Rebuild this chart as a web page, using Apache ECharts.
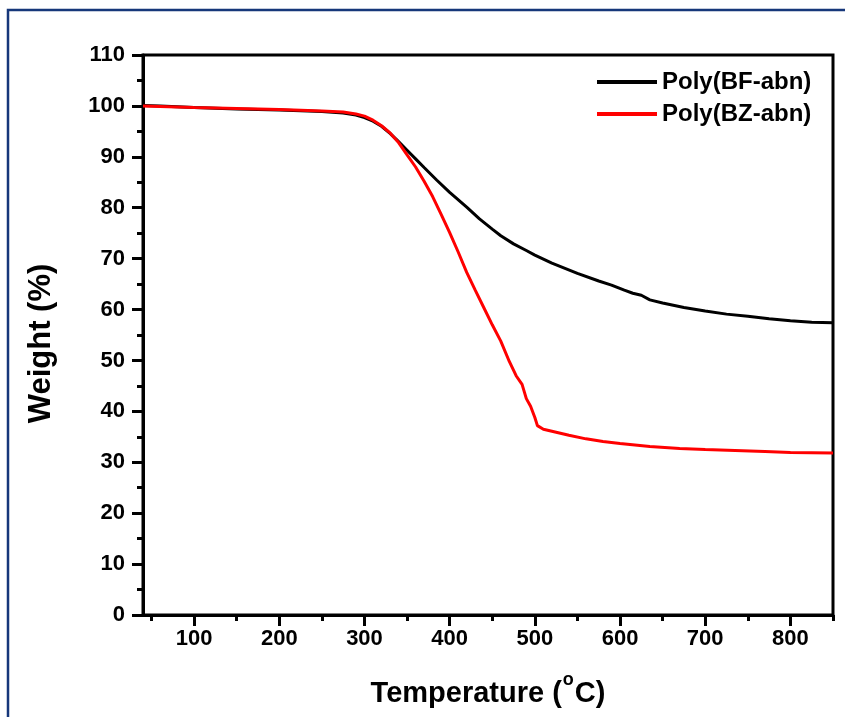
<!DOCTYPE html>
<html>
<head>
<meta charset="utf-8">
<script src="https://cdn.jsdelivr.net/npm/echarts@6/dist/echarts.min.js"></script>
<style>html,body{margin:0;padding:0;background:#fff}#c{width:845px;height:717px}</style>
</head>
<body>
<div id="c"></div>
<script>
// ---- data ----
const bfTemp   = [40, 60, 100, 150, 200, 250, 275, 290, 300, 310, 320, 330, 340, 350, 360, 370, 385, 400, 420, 435, 450, 460, 475, 490, 500, 520, 550, 575, 590, 605, 615, 625, 635, 650, 675, 700, 725, 750, 775, 800, 825, 850];
const bfWeight = [100.1, 100.0, 99.7, 99.4, 99.2, 98.9, 98.6, 98.2, 97.7, 97.0, 96.0, 94.6, 93.0, 91.3, 89.6, 87.9, 85.4, 83.0, 80.1, 77.8, 75.8, 74.5, 72.9, 71.6, 70.7, 69.1, 67.1, 65.6, 64.8, 63.8, 63.2, 62.8, 61.9, 61.3, 60.4, 59.7, 59.1, 58.7, 58.2, 57.8, 57.5, 57.4];
const bzTemp   = [40, 100, 150, 200, 250, 275, 290, 300, 310, 320, 330, 340, 350, 360, 370, 380, 390, 400, 410, 420, 430, 440, 450, 460, 470, 478, 485, 490, 495, 500, 503, 510, 520, 540, 560, 580, 600, 635, 670, 700, 735, 770, 800, 850];
const bzWeight = [100.0, 99.7, 99.5, 99.3, 99.0, 98.8, 98.4, 98.0, 97.2, 96.1, 94.7, 92.8, 90.4, 88.0, 85.2, 82.2, 78.7, 75.1, 71.3, 67.3, 63.8, 60.4, 57.0, 53.8, 49.8, 47.0, 45.3, 42.5, 41.0, 38.8, 37.2, 36.5, 36.1, 35.3, 34.6, 34.1, 33.7, 33.1, 32.7, 32.5, 32.3, 32.1, 31.9, 31.8];
const seriesNames = ['Poly(BF-abn)', 'Poly(BZ-abn)'];
const xMajorTicks = [100, 200, 300, 400, 500, 600, 700, 800];
const xMinorTicks = [50, 150, 250, 350, 450, 550, 650, 750, 850];

const FONT = "'Liberation Sans', Arial, sans-serif";
const zip = (a, b) => a.map((v, i) => [v, b[i]]);

const chart = echarts.init(document.getElementById('c'), null, {renderer: 'canvas'});
chart.setOption({
  animation: false,
  backgroundColor: '#ffffff',
  graphic: [{
    type: 'rect', silent: true, z: -10,
    shape: {x: 8, y: 10, width: 900, height: 760},
    style: {fill: 'none', stroke: '#16377a', lineWidth: 2.5}
  }],
  grid: {left: 143, right: 12, top: 55, bottom: 102, outerBoundsMode: 'none', containLabel: false,
    show: true, borderColor: '#000', borderWidth: 3, backgroundColor: 'transparent'},
  legend: {
    orient: 'vertical', left: 592, top: 65, itemGap: 8,
    itemWidth: 60, itemHeight: 4, icon: 'rect',
    textStyle: {fontFamily: FONT, fontWeight: 'bold', fontSize: 24, color: '#000'},
    data: seriesNames
  },
  xAxis: [{
    type: 'value', min: 40, max: 850, position: 'bottom',
    splitLine: {show: false},
    axisLine: {lineStyle: {color: '#000', width: 3}},
    axisTick: {customValues: xMajorTicks, length: 11, lineStyle: {color: '#000', width: 3}},
    axisLabel: {customValues: xMajorTicks, margin: 13, fontFamily: FONT, fontWeight: 'bold', fontSize: 22, color: '#000'},
    name: '{t|Temperature (}{s|o}{t|C)}', nameLocation: 'middle', nameGap: 64,
    nameTextStyle: {fontFamily: FONT, fontWeight: 'bold', fontSize: 29, color: '#000',
      rich: {
        t: {fontFamily: FONT, fontWeight: 'bold', fontSize: 29, color: '#000', verticalAlign: 'middle'},
        s: {fontFamily: FONT, fontWeight: 'bold', fontSize: 18, color: '#000', verticalAlign: 'middle', lineHeight: 18, padding: [0, 1, 27, 1]}
      }}
  }, {
    type: 'value', min: 40, max: 850, position: 'bottom',
    splitLine: {show: false},
    axisLine: {show: false},
    axisTick: {customValues: xMinorTicks, length: 6, lineStyle: {color: '#000', width: 3}},
    axisLabel: {show: false}
  }],
  yAxis: {
    type: 'value', min: 0, max: 110, interval: 10,
    splitLine: {show: false},
    axisLine: {lineStyle: {color: '#000', width: 3}},
    axisTick: {length: 11, lineStyle: {color: '#000', width: 3}},
    minorTick: {show: true, splitNumber: 2, length: 6, lineStyle: {color: '#000', width: 3}},
    axisLabel: {margin: 18, fontFamily: FONT, fontWeight: 'bold', fontSize: 22, color: '#000'},
    name: 'Weight (%)', nameLocation: 'middle', nameGap: 86,
    nameTextStyle: {fontFamily: FONT, fontWeight: 'bold', fontSize: 31, color: '#000', padding: [0, 17, 0, 0]}
  },
  series: [{
    name: seriesNames[0], type: 'line', showSymbol: false, symbol: 'none',
    lineStyle: {color: '#000', width: 3}, itemStyle: {color: '#000'},
    data: zip(bfTemp, bfWeight)
  }, {
    name: seriesNames[1], type: 'line', showSymbol: false, symbol: 'none',
    lineStyle: {color: '#ff0000', width: 3}, itemStyle: {color: '#ff0000'},
    data: zip(bzTemp, bzWeight)
  }]
});
</script>
</body>
</html>
